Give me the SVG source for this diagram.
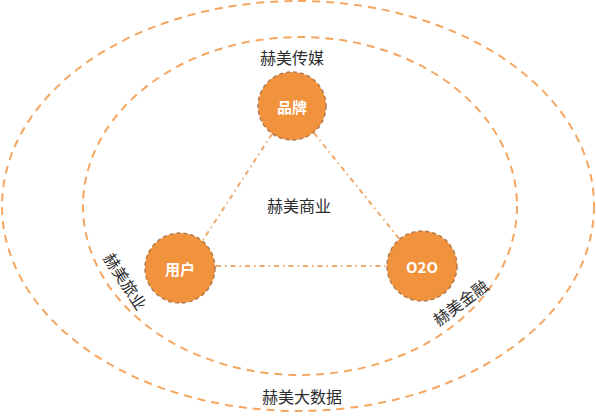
<svg xmlns="http://www.w3.org/2000/svg" width="596" height="416" viewBox="0 0 596 416">
<style>
.ring{fill:none;stroke:#F5A660;stroke-width:2;stroke-dasharray:8 6}
.link{stroke:#EFA86A;stroke-width:2;stroke-dasharray:5 4 1.5 4;fill:none}
.node{fill:#F1923C;stroke:#B47A4C;stroke-width:1.5;stroke-dasharray:4 3}
.nt{font-family:"Noto Sans CJK SC","Noto Sans",sans-serif;font-size:15px;font-weight:bold;fill:#FFFFFF;text-anchor:middle;dominant-baseline:central}
.lb{font-family:"Noto Sans CJK SC","Noto Sans",sans-serif;font-size:16px;fill:#2B2B2B;text-anchor:middle;dominant-baseline:central}
</style>
<rect width="596" height="416" fill="#FFFFFF"/>
<g id="rings">
<ellipse class="ring" cx="298" cy="206" rx="296" ry="205"/>
<ellipse class="ring" cx="300" cy="206" rx="217" ry="169"/>
</g>
<g id="connectors">
<line class="link" x1="272" y1="134" x2="203" y2="240"/>
<line class="link" x1="314" y1="133" x2="401" y2="241"/>
<line class="link" x1="216" y1="266" x2="387" y2="266"/>
</g>
<g id="node-brand">
<circle class="node" cx="292" cy="106" r="34"/>
<text class="nt" x="292" y="106">品牌</text>
</g>
<g id="node-user">
<circle class="node" cx="180" cy="268" r="35"/>
<text class="nt" x="180" y="268">用户</text>
</g>
<g id="node-o2o">
<circle class="node" cx="422" cy="266" r="35"/>
<text class="nt" x="422" y="266">O2O</text>
</g>
<g id="labels">
<text class="lb" x="292" y="57">赫美传媒</text>
<text class="lb" x="299" y="205">赫美商业</text>
<text class="lb" x="302" y="396">赫美大数据</text>
<text class="lb" transform="translate(126,281) rotate(57)">赫美旅业</text>
<text class="lb" transform="translate(460,302) rotate(-37)">赫美金融</text>
</g>
</svg>
